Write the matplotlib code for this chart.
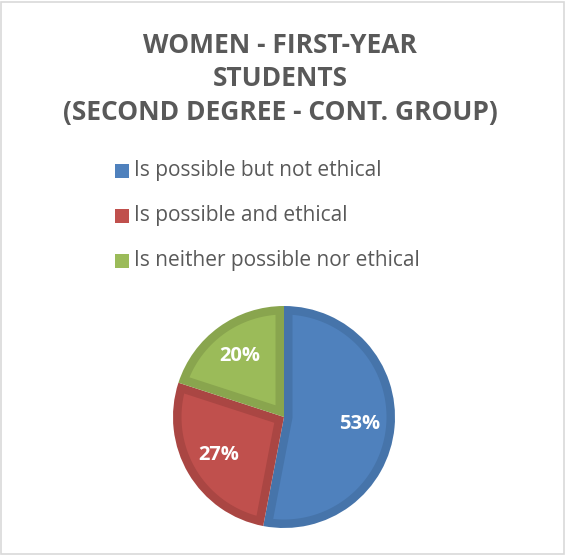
import numpy as np
import matplotlib.pyplot as plt
from matplotlib.patches import Rectangle, Polygon

# Survey answers, women first-year students (second degree, cont. group)
answers = ['Is possible but not ethical',
           'Is possible and ethical',
           'Is neither possible nor ethical']
shares = [53, 27, 20]
face_colors = ['#4F81BD', '#C0504D', '#9BBB59']
edge_colors = ['#4674AA', '#AA4643', '#89A54E']

title_lines = 'WOMEN - FIRST-YEAR\nSTUDENTS\n(SECOND DEGREE - CONT. GROUP)'

W, H = 566, 555
plt.rcParams['font.family'] = ['Open Sans', 'DejaVu Sans']


def inset_wedge(theta1, theta2, radius, d, n=120):
    """Wedge from theta1 to theta2 (deg, ccw) shrunk inwards by d on every side."""
    a1, a2 = np.radians(theta1), np.radians(theta2)
    u1 = np.array([np.cos(a1), np.sin(a1)])
    u2 = np.array([np.cos(a2), np.sin(a2)])
    n1 = np.array([-u1[1], u1[0]])   # inward normal of the first edge
    n2 = np.array([u2[1], -u2[0]])   # inward normal of the second edge
    half = (a2 - a1) / 2
    bis = np.array([np.cos(a1 + half), np.sin(a1 + half)])
    apex = bis * d / np.sin(half)
    t = np.sqrt((radius - d) ** 2 - d ** 2)
    p1 = t * u1 + d * n1
    p2 = t * u2 + d * n2
    b1 = np.arctan2(p1[1], p1[0])
    b2 = np.arctan2(p2[1], p2[0])
    while b2 < b1:
        b2 += 2 * np.pi
    arc = np.linspace(b1, b2, n)
    pts = [apex] + [(radius - d) * np.array([np.cos(a), np.sin(a)]) for a in arc]
    return np.array(pts)


fig = plt.figure(figsize=(W / 100, H / 100), dpi=100)
fig.patch.set_facecolor('white')

# thin grey frame round the chart area
fig.add_artist(Rectangle((1 / W, 1 / H), 1 - 3 / W, 1 - 3 / H,
                         transform=fig.transFigure, fill=False,
                         edgecolor='#D9D9D9', linewidth=1.2))

fig.text(280 / W, 1 - 79 / H, title_lines, ha='center', va='center',
         fontsize=19, fontweight='bold', color='#595959',
         linespacing=1.33)

# legend drawn as coloured squares plus text
for i, (label, col) in enumerate(zip(answers, face_colors)):
    yc = 1 - (170.5 + i * 45) / H
    fig.add_artist(Rectangle((115 / W, yc - 7 / H), 14 / W, 14 / H,
                             transform=fig.transFigure, facecolor=col,
                             edgecolor='none'))
    fig.text(134 / W, yc, label, ha='left', va='center',
             fontsize=15, color='#595959')

# pie axes: centre about (284, 417) px, radius about 111 px
cx, cy, r = 284, 417, 111
ax = fig.add_axes([(cx - r) / W, (H - cy - r) / H, 2 * r / W, 2 * r / H])
wedges, texts, autotexts = ax.pie(
    shares, colors=edge_colors, startangle=90, counterclock=False,
    autopct='%1.0f%%', pctdistance=0.68, radius=1.0,
    wedgeprops=dict(linewidth=0),
    textprops=dict(color='white', fontsize=14.5, fontweight='bold'))

# lighter inner face of each slice gives the bevelled look
band = 8.5 / r
for w, fc in zip(wedges, face_colors):
    pts = inset_wedge(w.theta1, w.theta2, 1.0, band)
    ax.add_patch(Polygon(pts, closed=True, facecolor=fc, edgecolor='none',
                         zorder=1.5))
for t in autotexts:
    t.set_zorder(3)

ax.set_xlim(-1.0, 1.0)
ax.set_ylim(-1.0, 1.0)
ax.set_aspect('equal')
ax.axis('off')

fig.savefig('out.png', dpi=100, facecolor='white')
